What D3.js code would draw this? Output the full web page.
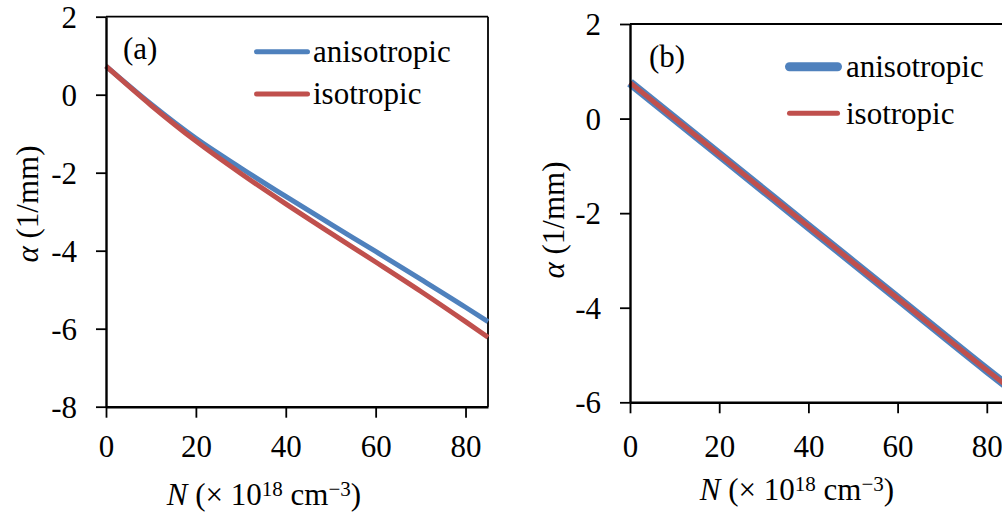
<!DOCTYPE html>
<html>
<head>
<meta charset="utf-8">
<script src="https://cdn.jsdelivr.net/npm/d3@7"></script>
<style>
  html, body { margin: 0; padding: 0; background: #fff; }
  svg { display: block; }
</style>
</head>
<body>
<svg id="chart" width="1002" height="516" font-family="Liberation Serif"></svg>
<script>
// ---------------- data ----------------
const seriesNames = ["anisotropic", "isotropic"];
const xTicks = [0, 20, 40, 60, 80];

// panel (a)
const N_a = [0, 10, 20, 30, 40, 50, 60, 70, 80, 85];
const aniso_a = [0.73, -0.24, -1.12, -1.88, -2.61, -3.32, -4.02, -4.73, -5.45, -5.82];
const iso_a   = [0.73, -0.27, -1.19, -2.02, -2.80, -3.55, -4.29, -5.04, -5.82, -6.22];
const yTicks_a = [2, 0, -2, -4, -6, -8];

// panel (b)
const N_b = [0, 20, 40, 60, 80, 85];
const aniso_b = [0.76, -0.76, -2.28, -3.80, -5.32, -5.69];
const iso_b   = [0.76, -0.76, -2.28, -3.80, -5.32, -5.69];
const yTicks_b = [2, 0, -2, -4, -6];

const colors = ["#4F81BD", "#C0504D"];

// ---------------- drawing ----------------
const svg = d3.select("#chart");
const FONT = "Liberation Serif";
const FS = 31;

function txt(sel, size) {
  return sel.attr("font-family", FONT).style("font-family", FONT)
    .attr("font-size", size).style("font-size", size + "px").attr("fill", "#000");
}

function panel(cfg) {
  const x = d3.scaleLinear().domain([0, 85]).range([cfg.left, cfg.right]);
  const y = d3.scaleLinear().domain(cfg.yDomain).range([cfg.bottom, cfg.top]);
  const g = svg.append("g");

  // frame (top + right)
  g.append("line").attr("x1", cfg.left).attr("x2", cfg.right)
    .attr("y1", cfg.top).attr("y2", cfg.top)
    .attr("stroke", "#000").attr("stroke-width", 1.8);
  g.append("line").attr("x1", cfg.right).attr("x2", cfg.right)
    .attr("y1", cfg.top).attr("y2", cfg.bottom)
    .attr("stroke", "#000").attr("stroke-width", 1.8);

  // series
  const line = d3.line().x(d => x(d[0])).y(d => y(d[1])).curve(d3.curveMonotoneX);
  cfg.series.forEach((s, i) => {
    g.append("path")
      .datum(cfg.N.map((n, k) => [n, s[k]]))
      .attr("fill", "none")
      .attr("stroke", colors[i])
      .attr("stroke-width", cfg.widths[i])
      .attr("d", line);
  });

  // axes
  const yAxis = d3.axisLeft(y).tickValues(cfg.yTicks).tickSize(10).tickSizeOuter(0)
    .tickPadding(19).tickFormat(d => String(d));
  const gy = g.append("g").attr("transform", `translate(${cfg.left},0)`).call(yAxis);
  const xAxis = d3.axisBottom(x).tickValues(xTicks).tickSize(11).tickSizeOuter(0)
    .tickPadding(cfg.xPad).tickFormat(d => String(d));
  const gx = g.append("g").attr("transform", `translate(0,${cfg.bottom})`).call(xAxis);
  [gx, gy].forEach(a => {
    a.attr("font-family", FONT).attr("font-size", FS);
    a.select(".domain").attr("stroke", "#000").attr("stroke-width", 2.4);
    a.selectAll(".tick line").attr("stroke", "#000").attr("stroke-width", 1.8);
    txt(a.selectAll(".tick text"), FS);
  });
  gy.selectAll(".tick text").attr("dy", "0.34em");

  // panel label
  txt(g.append("text").attr("x", cfg.labelX).attr("y", cfg.labelY), FS).text(cfg.label);

  // legend
  seriesNames.forEach((name, i) => {
    const ly = cfg.legendY[i];
    g.append("line").attr("x1", cfg.legendX1).attr("x2", cfg.legendX2)
      .attr("y1", ly).attr("y2", ly)
      .attr("stroke", colors[i]).attr("stroke-width", cfg.widths[i])
      .attr("stroke-linecap", "round");
    txt(g.append("text").attr("x", cfg.legendTextX).attr("y", ly + cfg.legendDy), FS).text(name);
  });

  // y title
  const yt = txt(g.append("text")
    .attr("transform", `translate(${cfg.yTitleX},${cfg.yTitleY}) rotate(-90)`)
    .attr("text-anchor", "middle"), 31);
  yt.append("tspan").attr("font-style", "italic").text("α");
  yt.append("tspan").text(" (1/mm)");

  // x title
  const xt = txt(g.append("text").attr("x", cfg.xTitleX).attr("y", cfg.xTitleY)
    .attr("text-anchor", "middle"), 31);
  xt.append("tspan").attr("font-style", "italic").text("N");
  xt.append("tspan").text(" (× 10");
  xt.append("tspan").attr("dy", -9).attr("font-size", 21).style("font-size", "21px").text("18");
  xt.append("tspan").attr("dy", 9).text(" cm");
  xt.append("tspan").attr("dy", -9).attr("font-size", 21).style("font-size", "21px").text("−3");
  xt.append("tspan").attr("dy", 9).text(")");
}

panel({
  left: 106, right: 488, top: 16.7, bottom: 406.7, yDomain: [-8, 2],
  yTicks: yTicks_a, N: N_a, series: [aniso_a, iso_a], widths: [5, 5],
  xPad: 17, label: "(a)", labelX: 123, labelY: 59,
  legendX1: 256.5, legendX2: 307.5, legendY: [51.7, 94], legendTextX: 313, legendDy: 10,
  yTitleX: 38, yTitleY: 204, xTitleX: 264, xTitleY: 505
});

panel({
  left: 630, right: 630 + 85 * 4.46, top: 24, bottom: 402.3, yDomain: [-6, 2],
  yTicks: yTicks_b, N: N_b, series: [aniso_b, iso_b], widths: [9, 5],
  xPad: 22, label: "(b)", labelX: 649, labelY: 67,
  legendX1: 789.5, legendX2: 837.5, legendY: [66.7, 113.3], legendTextX: 846, legendDy: 10.5,
  yTitleX: 564, yTitleY: 220, xTitleX: 797, xTitleY: 500
});
</script>
</body>
</html>
